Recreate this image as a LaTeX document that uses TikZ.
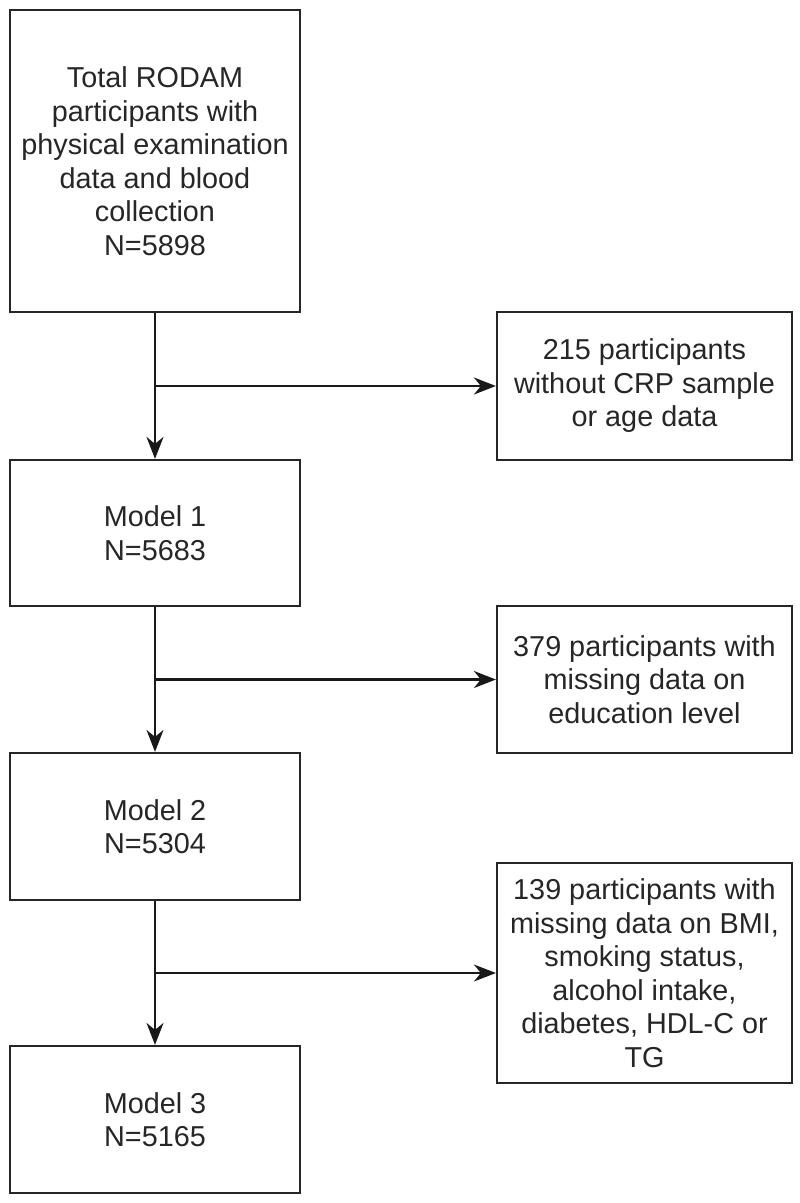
\documentclass[tikz,border=0pt]{standalone}
\usepackage{fontspec}
\setmainfont{Liberation Sans}
\usetikzlibrary{arrows.meta,calc}
\begin{document}
\begin{tikzpicture}[x=1pt,y=1pt,
  box/.style={draw=black!85, line width=2.2pt, rectangle, align=center, inner sep=0pt,
    font=\fontsize{28.8}{33.5}\selectfont, text=black!85},
  arr/.style={draw=black!90, line width=2.2pt, -{Stealth[length=22pt,width=17pt,inset=7pt]}}]
\useasboundingbox (0,0) rectangle (800,-1203);
\node[box, minimum width=290pt, minimum height=302pt] (b1) at (155,-161)
  {Total RODAM\\participants with\\physical examination\\data and blood\\collection\\N=5898};
\node[box, minimum width=295pt, minimum height=148pt] (s1) at (644.5,-386)
  {215 participants\\without CRP sample\\or age data};
\node[box, minimum width=290pt, minimum height=146pt] (m1) at (155,-533)
  {Model 1\\N=5683};
\node[box, minimum width=295pt, minimum height=147pt] (s2) at (644.5,-679.5)
  {379 participants with\\missing data on\\education level};
\node[box, minimum width=290pt, minimum height=147pt] (m2) at (155,-826.5)
  {Model 2\\N=5304};
\node[box, minimum width=295pt, minimum height=220pt] (s3) at (644.5,-973)
  {139 participants with\\missing data on BMI,\\smoking status,\\alcohol intake,\\diabetes, HDL-C or\\TG};
\node[box, minimum width=290pt, minimum height=147pt] (m3) at (155,-1119.5)
  {Model 3\\N=5165};
\coordinate (j1) at ($(b1.south)!0.5!(m1.north)$);
\coordinate (j2) at ($(m1.south)!0.5!(m2.north)$);
\coordinate (j3) at ($(m2.south)!0.5!(m3.north)$);
\draw[arr] (b1.south) -- (m1.north);
\draw[arr] (m1.south) -- (m2.north);
\draw[arr] (m2.south) -- (m3.north);
\draw[arr] (j1) -- (j1 -| s1.west);
\draw[arr] (j2) -- (j2 -| s2.west);
\draw[arr] (j3) -- (j3 -| s3.west);
\end{tikzpicture}
\end{document}
